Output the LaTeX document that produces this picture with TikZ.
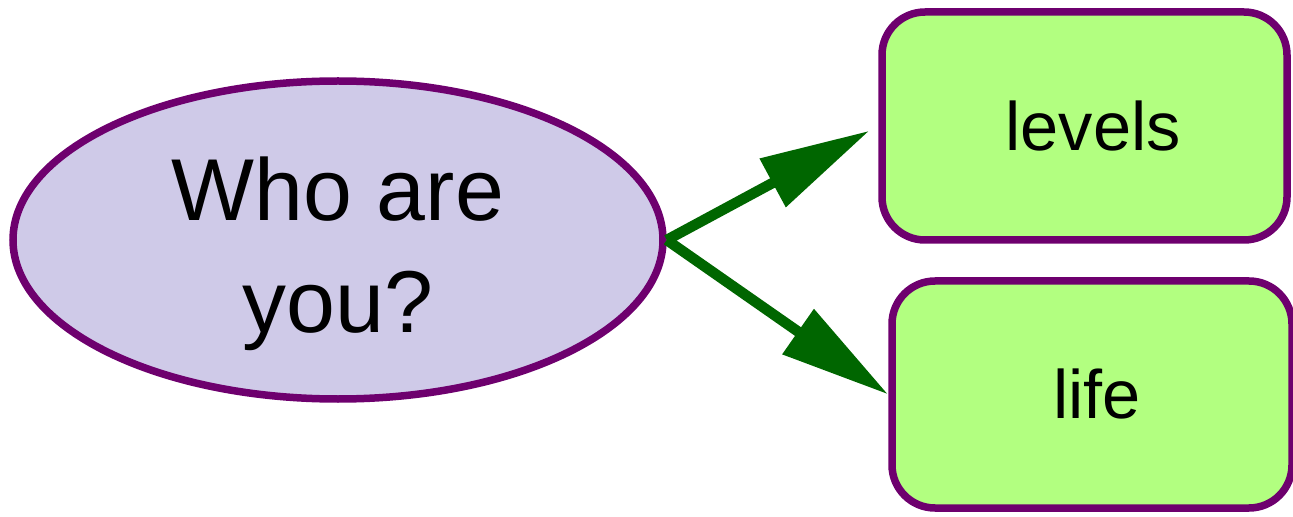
\documentclass[tikz,border=0pt]{standalone}
\usepackage{fontspec}
\setmainfont{Liberation Sans}
\usetikzlibrary{shapes.geometric,arrows.meta}

\definecolor{plum}{RGB}{110,0,110}
\definecolor{lilac}{RGB}{207,202,232}
\definecolor{lime}{RGB}{178,255,128}
\definecolor{leaf}{RGB}{0,102,0}

\tikzset{
  question/.style={ellipse, draw=plum, fill=lilac, line width=0.15cm,
    minimum width=13cm, minimum height=6.36cm},
  answer/.style={draw=plum, fill=lime, line width=0.15cm, rounded corners=0.86cm,
    font=\fontsize{39}{46}\selectfont},
  link/.style={draw=leaf, line width=0.21cm, -{Triangle[length=2.2cm,width=1.05cm]}}
}

\begin{document}
\begin{tikzpicture}
\useasboundingbox (0,0) rectangle (25.86,-10.34);

% nodes
\node[question, label={[align=center, font=\fontsize{50}{64}\selectfont, yshift=-0.28cm]center:Who are\\you?}] (who) at (6.76,-4.8) {};
\node[answer, minimum width=8.1cm, minimum height=4.56cm] (levels) at (21.69,-2.52) {\hspace{0.35cm}levels};
\node[answer, minimum width=8cm, minimum height=4.54cm] (life) at (21.84,-7.89) {\hspace{0.2cm}life};

% arrows
\draw[link, shorten >=0.2cm] (who.east) -- (levels.west);
\draw[link] (who.east) -- (life.west);

\end{tikzpicture}
\end{document}
